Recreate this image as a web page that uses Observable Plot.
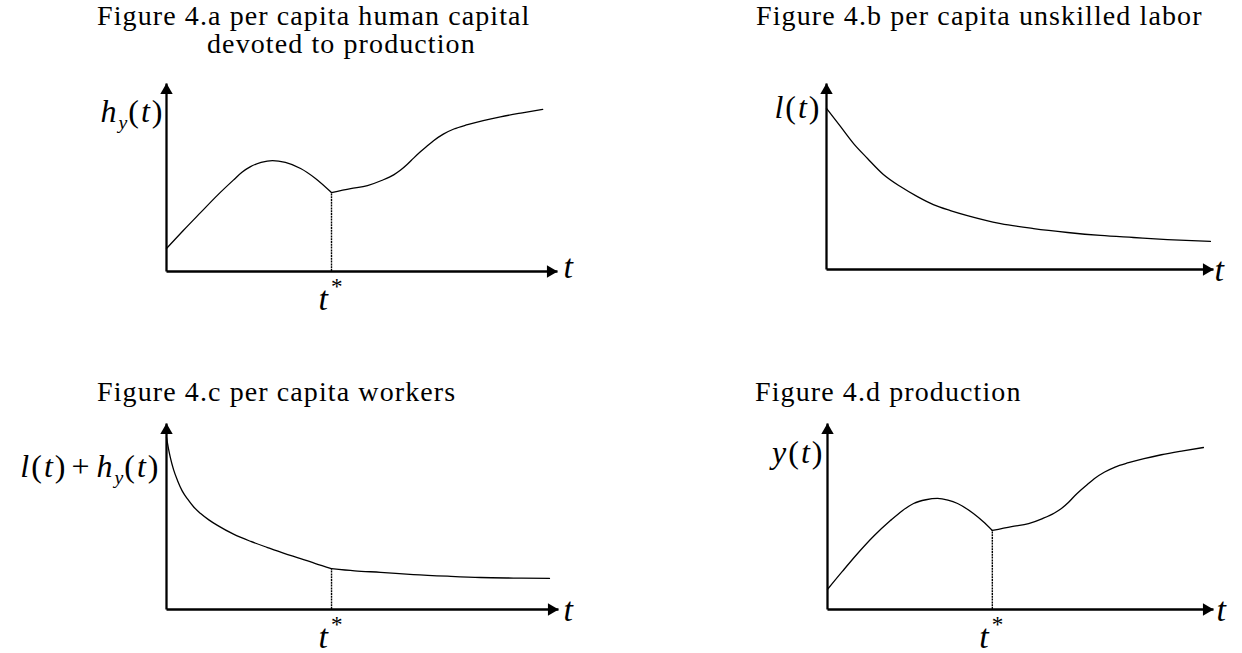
<!DOCTYPE html>
<html><head><meta charset="utf-8">
<script src="https://cdn.jsdelivr.net/npm/d3@7"></script>
<script src="https://cdn.jsdelivr.net/npm/@observablehq/plot@0.6"></script>
<style>
body{margin:0;background:#fff;}
#fig{position:relative;width:1242px;height:653px;overflow:hidden;background:#fff;}
.ttl{position:absolute;font-family:"Liberation Serif","Times New Roman",serif;font-size:28px;line-height:28px;letter-spacing:1.1px;white-space:nowrap;color:#000;}
</style></head><body><div id="fig"></div>
<script>
// ---------- titles ----------
const titleA = ["Figure 4.a per capita human capital", "devoted to production"];
const titleB = "Figure 4.b per capita unskilled labor";
const titleC = "Figure 4.c per capita workers";
const titleD = "Figure 4.d production";

// ---------- axis-label text ----------
const yLabels = ["h_y(t)", "l(t)", "l(t)+h_y(t)", "y(t)"];
const yLabelAt = [7.93, 8.17, 7.10, 7.85];   // label baseline height (value units)
const xLabel = "t";
const starLabel = "t*";

// ---------- Fig 4.a  h_y(t) (before / after t*) ----------
const hyT1 = [0, 0.43, 0.87, 1.30, 1.71, 1.93, 2.15, 2.42, 2.71, 3.04, 3.43, 3.81, 4.22];
const hyV1 = [1.22, 2.18, 3.13, 4.05, 4.86, 5.28, 5.58, 5.80, 5.90, 5.80, 5.48, 4.95, 4.20];
const hyT2 = [4.22, 4.71, 5.14, 5.50, 5.81, 5.98, 6.16, 6.32, 6.50, 6.68, 6.83, 7.08, 7.35, 7.70, 8.10, 8.54, 9.10, 9.62];
const hyV2 = [4.20, 4.41, 4.57, 4.84, 5.14, 5.38, 5.70, 6.03, 6.38, 6.70, 6.96, 7.31, 7.58, 7.81, 8.03, 8.23, 8.44, 8.62];

// ---------- Fig 4.b  l(t) ----------
const lT = [0, 0.36, 0.70, 1.06, 1.47, 1.91, 2.35, 2.76, 3.20, 3.64, 4.50, 5.35, 6.23, 7.08, 7.93, 8.81, 9.92];
const lV = [8.66, 7.69, 6.77, 5.97, 5.11, 4.46, 3.92, 3.49, 3.17, 2.90, 2.47, 2.20, 1.99, 1.83, 1.72, 1.61, 1.51];

// ---------- Fig 4.c  l(t)+h_y(t) ----------
const wT1 = [0, 0.05, 0.10, 0.18, 0.28, 0.40, 0.54, 0.70, 0.87, 1.08, 1.30, 1.71, 2.15, 2.58, 3.00, 3.42, 3.80, 4.21];
const wV1 = [9.25, 8.65, 8.15, 7.52, 6.94, 6.38, 5.93, 5.50, 5.16, 4.82, 4.52, 4.05, 3.66, 3.33, 3.02, 2.74, 2.47, 2.20];
const wT2 = [4.21, 4.80, 5.46, 6.30, 7.17, 8.01, 8.85, 9.77];
const wV2 = [2.20, 2.08, 2.00, 1.88, 1.79, 1.72, 1.69, 1.67];

// ---------- Fig 4.d  y(t) ----------
const yT1 = [0, 0.39, 0.78, 1.20, 1.63, 1.93, 2.23, 2.55, 2.85, 3.12, 3.37, 3.78, 4.03, 4.27];
const yV1 = [1.08, 2.06, 3.01, 3.95, 4.78, 5.30, 5.70, 5.90, 5.97, 5.88, 5.70, 5.16, 4.73, 4.25];
const yT2 = [4.27, 4.77, 5.21, 5.57, 5.88, 6.06, 6.24, 6.40, 6.58, 6.76, 6.91, 7.18, 7.45, 7.80, 8.20, 8.65, 9.21, 9.74];
const yV2 = [4.25, 4.46, 4.62, 4.89, 5.19, 5.43, 5.75, 6.10, 6.45, 6.77, 7.03, 7.39, 7.66, 7.89, 8.11, 8.32, 8.53, 8.71];

const SERIF = '"Liberation Serif","Times New Roman",serif';
const fig = document.getElementById("fig");
const MATH = new Set([...yLabels, starLabel]);

function rows(T, V) { return T.map((t, i) => ({t, v: V[i]})); }

function panel(o) {
  const marks = [];
  marks.push(Plot.line(rows(o.t1, o.v1), {x: "t", y: "v", curve: "monotone-x", stroke: "#000", strokeWidth: 1.3}));
  if (o.t2) marks.push(Plot.line(rows(o.t2, o.v2), {x: "t", y: "v", curve: "monotone-x", stroke: "#000", strokeWidth: 1.3}));
  if (o.t2) {
    const ts = o.t1[o.t1.length - 1], vs = o.v1[o.v1.length - 1];
    marks.push(Plot.ruleX([ts], {y1: 0, y2: vs, stroke: "#000", strokeWidth: 1.4, strokeDasharray: "2,0.8"}));
    marks.push(Plot.text([{x: ts, y: 0, s: starLabel}], {x: "x", y: "y", text: "s", textAnchor: "middle", lineAnchor: "bottom", dy: 38, dx: -1, fontSize: 34, fontFamily: SERIF}));
  }
  // axes
  marks.push(Plot.link([{x1: 0, y1: 0, x2: 10, y2: 0}, {x1: 0, y1: 0, x2: 0, y2: 10}], {x1: "x1", y1: "y1", x2: "x2", y2: "y2", stroke: "#000", strokeWidth: 2.3}));
  marks.push(Plot.dot([{x: 10, y: 0}], {x: "x", y: "y", symbol: "triangle", r: 4.6, fill: "#000", stroke: "none", rotate: 90, dx: -7}));
  marks.push(Plot.dot([{x: 0, y: 10}], {x: "x", y: "y", symbol: "triangle", r: 4.6, fill: "#000", stroke: "none", dy: 7}));
  // labels
  marks.push(Plot.text([{x: 0, y: o.labelV, s: o.label}], {x: "x", y: "y", text: "s", textAnchor: "end", lineAnchor: "bottom", dx: -o.labelGap, fontSize: 32, fontFamily: SERIF}));
  marks.push(Plot.text([{x: 10, y: 0, s: xLabel}], {x: "x", y: "y", text: "s", textAnchor: "start", dx: o.tDx, dy: o.tDy, fontSize: 34, fontStyle: "italic", fontFamily: SERIF}));

  const svg = Plot.plot({
    width: o.w, height: o.h,
    marginLeft: o.m[0], marginRight: o.m[1], marginTop: o.m[2], marginBottom: o.m[3],
    x: {domain: [0, 10], axis: null},
    y: {domain: [0, 10], axis: null},
    style: {position: "absolute", left: o.left + "px", top: o.top + "px", background: "transparent", overflow: "visible", maxWidth: "none"},
    marks
  });
  mathify(svg);
  fig.appendChild(svg);
}

function mathify(svg) {
  d3.select(svg).selectAll("text").each(function () {
    const s = this.textContent;
    if (!MATH.has(s)) return;
    const el = d3.select(this);
    el.selectAll("*").remove();
    el.text(null);
    let back = 0;
    for (let i = 0; i < s.length; i++) {
      const c = s[i];
      if (c === "_") {
        const n = s[++i];
        el.append("tspan").attr("font-style", "italic").attr("font-size", "0.62em").attr("dy", 7).attr("dx", 0).attr("letter-spacing", "1px").text(n);
        back = -7;
        continue;
      }
      if (c === "*") {
        el.append("tspan").attr("font-style", "normal").attr("font-size", "0.68em").attr("dy", -16).attr("dx", 1).text(c);
        back = 16;
        continue;
      }
      const sp = el.append("tspan").text(c);
      sp.attr("font-style", /[a-z]/.test(c) ? "italic" : "normal").attr("letter-spacing", "2px");
      if (c === "+") sp.attr("dx", 4).attr("letter-spacing", "7px");
      if (back) { sp.attr("dy", back); back = 0; }
    }
  });
}

function title(text, left, top) {
  const d = document.createElement("div");
  d.className = "ttl";
  d.textContent = text;
  d.style.left = left + "px";
  d.style.top = top + "px";
  fig.appendChild(d);
}

panel({t1: hyT1, v1: hyV1, t2: hyT2, v2: hyV2, label: yLabels[0], labelV: yLabelAt[0], labelGap: 2,
  left: 0, top: 70, w: 620, h: 260, m: [166, 63, 13, 59], tDx: 6, tDy: -4});
panel({t1: lT, v1: lV, label: yLabels[1], labelV: yLabelAt[1], labelGap: 5,
  left: 620, top: 70, w: 622, h: 260, m: [206, 29, 13, 61], tDx: 1, tDy: 1});
panel({t1: wT1, v1: wV1, t2: wT2, v2: wV2, label: yLabels[2], labelV: yLabelAt[2], labelGap: 6,
  left: 0, top: 410, w: 620, h: 243, m: [166, 62, 13, 44], tDx: 5, tDy: 1});
panel({t1: yT1, v1: yV1, t2: yT2, v2: yV2, label: yLabels[3], labelV: yLabelAt[3], labelGap: 3,
  left: 620, top: 410, w: 622, h: 243, m: [207, 29, 13, 44], tDx: 3, tDy: 1});

title(titleA[0], 97, 1.5);
title(titleA[1], 207, 29.5);
title(titleB, 756, 1.5);
title(titleC, 97, 377.5);
title(titleD, 755, 377.5);
</script>
</body></html>
